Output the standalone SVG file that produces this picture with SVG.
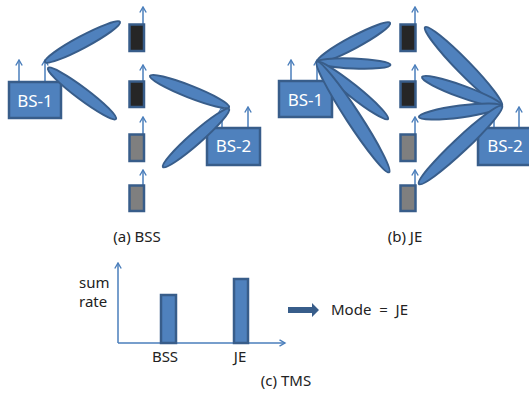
<svg xmlns="http://www.w3.org/2000/svg" width="529" height="393" viewBox="0 0 529 393">
  <defs>
    <marker id="chev" viewBox="0 0 8 8" refX="6.5" refY="4" markerWidth="8" markerHeight="8" markerUnits="userSpaceOnUse" orient="auto">
      <path d="M1,0.8 L6.5,4 L1,7.2" fill="none" stroke="#4a7ebb" stroke-width="1.4"/>
    </marker>
    <style>
      .bs { fill: #4f81bd; stroke: #385d8a; stroke-width: 2.5; }
      .beam { fill: #4f81bd; stroke: #385d8a; stroke-width: 2; }
      .ant { stroke: #4a7ebb; stroke-width: 1.5; fill: none; marker-end: url(#chev); }
      .axis { stroke: #4a7ebb; stroke-width: 1.5; fill: none; marker-end: url(#chev); }
      .ue { stroke: #385d8a; stroke-width: 2.5; }
      .ue-on { fill: #262626; }
      .ue-off { fill: #7f7f7f; }
      .bar { fill: #4f81bd; stroke: #385d8a; stroke-width: 2.5; }
      .bslabel { font-family: "Noto Sans", "Open Sans", sans-serif; font-size: 17px; fill: #ffffff; text-anchor: middle; }
      .lbl { font-family: "Noto Sans", "Open Sans", sans-serif; font-size: 15px; fill: #222222; }
    </style>
  </defs>

  <!-- (a) BSS -->
  <g id="bss-bs1">
    <line class="ant" x1="19" y1="82" x2="19" y2="60"/>
    <line class="ant" x1="45" y1="82" x2="45" y2="60"/>
    <rect class="bs" x="9" y="82" width="52" height="36"/>
    <text class="bslabel" x="35" y="107">BS-1</text>
  </g>
  <g id="bss-bs2">
    <line class="ant" x1="222" y1="128" x2="222" y2="107"/>
    <line class="ant" x1="248" y1="128" x2="248" y2="107"/>
    <rect class="bs" x="207" y="128" width="53" height="37"/>
    <text class="bslabel" x="233.5" y="152">BS-2</text>
  </g>
  <g id="bss-ue1"><line class="ant" x1="143" y1="24" x2="143" y2="7"/><rect class="ue ue-on" x="129.5" y="24.5" width="14.5" height="26.5"/></g>
  <g id="bss-ue2"><line class="ant" x1="143" y1="81" x2="143" y2="65"/><rect class="ue ue-on" x="129.5" y="81.5" width="14.5" height="25.5"/></g>
  <g id="bss-ue3"><line class="ant" x1="143" y1="134" x2="143" y2="117"/><rect class="ue ue-off" x="129.5" y="134.5" width="14.5" height="26.5"/></g>
  <g id="bss-ue4"><line class="ant" x1="143" y1="185" x2="143" y2="170"/><rect class="ue ue-off" x="129.5" y="185.5" width="14.5" height="25.5"/></g>

  <g id="bss-beams">
    <ellipse class="beam" cx="82.5" cy="42" rx="42.5" ry="6" transform="rotate(-28.07 82.5 42)"/>
    <ellipse class="beam" cx="82" cy="93.5" rx="42.5" ry="6" transform="rotate(36.87 82 93.5)"/>
    <ellipse class="beam" cx="189.5" cy="91.5" rx="42.5" ry="6" transform="rotate(21.43 189.5 91.5)"/>
    <ellipse class="beam" cx="196" cy="138" rx="44" ry="6" transform="rotate(-41.3 196 138)"/>
  </g>
  <text class="lbl" x="137" y="242" text-anchor="middle">(a) BSS</text>

  <!-- (b) JE -->
  <g id="je-bs1">
    <line class="ant" x1="291" y1="81" x2="291" y2="60"/>
    <line class="ant" x1="317" y1="81" x2="317" y2="60"/>
    <rect class="bs" x="279" y="81" width="53" height="36"/>
    <text class="bslabel" x="305.5" y="106">BS-1</text>
  </g>
  <g id="je-bs2">
    <line class="ant" x1="494" y1="128" x2="494" y2="107"/>
    <line class="ant" x1="519" y1="128" x2="519" y2="107"/>
    <rect class="bs" x="478" y="128" width="54" height="37"/>
    <text class="bslabel" x="505" y="152">BS-2</text>
  </g>
  <g id="je-ue1"><line class="ant" x1="415" y1="24" x2="415" y2="7"/><rect class="ue ue-on" x="400.5" y="24.5" width="15" height="26.5"/></g>
  <g id="je-ue2"><line class="ant" x1="415" y1="81" x2="415" y2="65"/><rect class="ue ue-on" x="400.5" y="81.5" width="15" height="25.5"/></g>
  <g id="je-ue3"><line class="ant" x1="415" y1="134" x2="415" y2="117"/><rect class="ue ue-off" x="400.5" y="134.5" width="15" height="26.5"/></g>
  <g id="je-ue4"><line class="ant" x1="415" y1="185" x2="415" y2="170"/><rect class="ue ue-off" x="400.5" y="185.5" width="15" height="25.5"/></g>

  <g id="je-beams">
    <ellipse class="beam" cx="353.5" cy="42.5" rx="41.5" ry="6" transform="rotate(-28.1 353.5 42.5)"/>
    <ellipse class="beam" cx="353.5" cy="63.5" rx="37" ry="5" transform="rotate(2.35 353.5 63.5)"/>
    <ellipse class="beam" cx="352.5" cy="90.5" rx="45.5" ry="6" transform="rotate(38.8 352.5 90.5)"/>
    <ellipse class="beam" cx="353" cy="117" rx="66" ry="7" transform="rotate(56.8 353 117)"/>
    <ellipse class="beam" cx="463.5" cy="66.5" rx="55" ry="7" transform="rotate(45.7 463.5 66.5)"/>
    <ellipse class="beam" cx="462" cy="91.5" rx="42.5" ry="6" transform="rotate(19.9 462 91.5)"/>
    <ellipse class="beam" cx="460.5" cy="111.5" rx="42" ry="6" transform="rotate(-7.5 460.5 111.5)"/>
    <ellipse class="beam" cx="460.5" cy="145" rx="57" ry="7" transform="rotate(-43.2 460.5 145)"/>
  </g>
  <text class="lbl" x="405" y="242" text-anchor="middle">(b) JE</text>

  <!-- (c) TMS -->
  <g id="tms-chart">
    <line class="axis" x1="118" y1="343" x2="118" y2="263"/>
    <line class="axis" x1="118" y1="343" x2="285" y2="343"/>
    <rect class="bar" x="161" y="295" width="15" height="48"/>
    <rect class="bar" x="234" y="279" width="14" height="64"/>
    <text class="lbl" x="79" y="288">sum</text>
    <text class="lbl" x="79" y="307">rate</text>
    <text class="lbl" x="165" y="362" text-anchor="middle">BSS</text>
    <text class="lbl" x="240" y="362" text-anchor="middle">JE</text>
  </g>
  <g id="tms-decision">
    <polygon points="288,307 312,307 312,303 319,310 312,317 312,313 288,313" fill="#385d8a"/>
    <text class="lbl" x="331" y="315" font-size="16" xml:space="preserve">Mode  =  JE</text>
  </g>
  <text class="lbl" x="286" y="386" text-anchor="middle">(c) TMS</text>
</svg>
